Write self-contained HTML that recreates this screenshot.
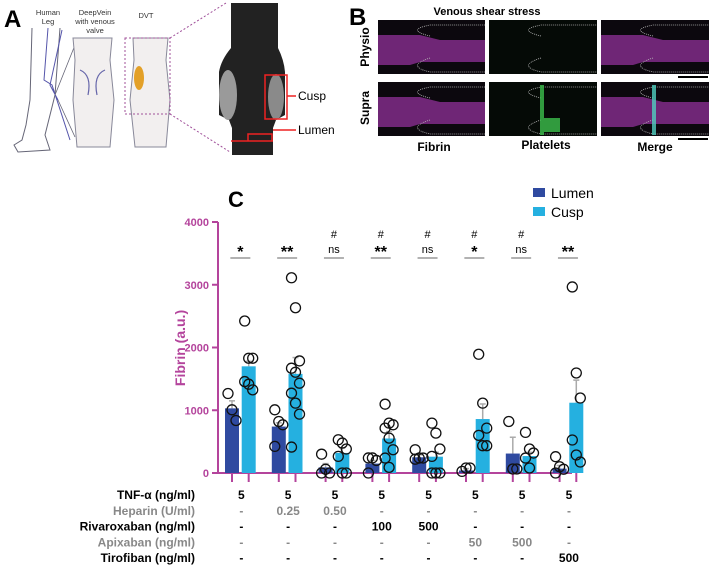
<!DOCTYPE html>
<html><head><meta charset="utf-8"><style>
body{margin:0;background:#fff;}
svg{display:block;font-family:"Liberation Sans",Arial,sans-serif;}
</style></head><body>
<svg id="fig" width="711" height="569" viewBox="0 0 711 569">
<!-- Panel A -->
<g>
<text x="4" y="27" font-size="24" font-weight="bold">A</text>
<text x="48" y="15" font-size="7.5" text-anchor="middle" fill="#333">Human</text>
<text x="48" y="24" font-size="7.5" text-anchor="middle" fill="#333">Leg</text>
<text x="95" y="15" font-size="7.5" text-anchor="middle" fill="#333">DeepVein</text>
<text x="95" y="24" font-size="7.5" text-anchor="middle" fill="#333">with venous</text>
<text x="95" y="33" font-size="7.5" text-anchor="middle" fill="#333">valve</text>
<text x="146" y="18" font-size="7.5" text-anchor="middle" fill="#333">DVT</text>
<path d="M32 28 L30 100 L26 125 L22 140 L14 145 L18 152 L50 150 L45 135 L55 95 L60 28" fill="none" stroke="#667" stroke-width="1"/>
<path d="M48 28 L44 80 L52 85 L70 140 M62 30 L50 85 L58 100" fill="none" stroke="#55a" stroke-width="1"/>
<path d="M55 95 L75 45 M58 100 L75 137" fill="none" stroke="#667" stroke-width="0.8"/>
<path d="M73 38 L112 38 L110 60 L114 100 L110 147 L77 147 L73 100 L75 60 Z" fill="#f2efef" stroke="#889"/>
<path d="M80 70 Q92 75 88 95 M105 70 Q93 75 97 95" fill="none" stroke="#66a" stroke-width="1.2"/>
<path d="M133 38 L168 38 L166 60 L170 100 L166 147 L135 147 L130 100 L134 60 Z" fill="#f2efef" stroke="#889"/>
<rect x="125" y="38" width="45" height="76" fill="none" stroke="#a0509a" stroke-dasharray="2,2"/>
<ellipse cx="139" cy="78" rx="5" ry="12" fill="#e3a028"/>
<path d="M170 38 L226 3 M170 114 L230 152" stroke="#a0509a" stroke-dasharray="2,2"/>
<path d="M231 3 L278 3 L278 48 Q284 60 285 72 L285 115 L276 120 L273 128 L273 155 L232 155 L232 128 L229 120 L219 115 L219 72 Q221 60 231 48 Z" fill="#222"/>
<ellipse cx="228" cy="95" rx="9" ry="25" fill="#9a9a9a"/>
<ellipse cx="276" cy="97" rx="8" ry="23" fill="#8a8a8a"/>
<rect x="265" y="75" width="22" height="44" fill="none" stroke="#e22" stroke-width="1.5"/>
<path d="M287 96 L296 96 M231 141 L273 141 M248 141 L248 134 L272 134 L272 141 M273 130 L296 130" stroke="#e22" stroke-width="1.5" fill="none"/>
<text x="298" y="100" font-size="12">Cusp</text>
<text x="298" y="134" font-size="12">Lumen</text>
</g>
<!-- Panel B -->
<g>
<text x="349" y="25" font-size="24" font-weight="bold">B</text>
<text x="487" y="15" font-size="11" font-weight="bold" text-anchor="middle">Venous shear stress</text>
<rect x="378" y="20" width="107" height="54" fill="#0c080e"/>
<rect x="489" y="20" width="108" height="54" fill="#050a06"/>
<rect x="601" y="20" width="108" height="54" fill="#0c080e"/>
<rect x="378" y="82" width="107" height="54" fill="#0c080e"/>
<rect x="489" y="82" width="108" height="54" fill="#050a06"/>
<rect x="601" y="82" width="108" height="54" fill="#0c080e"/>
<g fill="#7a2a82" opacity="0.9">
<path d="M378 35 L420 35 L440 40 L485 40 L485 62 L420 62 L410 65 L378 65 Z"/>
<path d="M601 35 L643 35 L663 40 L709 40 L709 62 L643 62 L633 65 L601 65 Z"/>
<path d="M378 97 L420 97 L440 102 L485 102 L485 124 L420 124 L410 127 L378 127 Z"/>
<path d="M601 97 L643 97 L663 102 L709 102 L709 124 L643 124 L633 127 L601 127 Z"/>
</g>
<g fill="none" stroke="#bbb" stroke-width="0.8" stroke-dasharray="1,1">
<path d="M430 36 Q405 30 430 25 L485 25 M430 58 Q405 66 430 72 L485 72"/>
<path d="M541 36 Q516 30 541 25 L597 25 M541 58 Q516 66 541 72 L597 72"/>
<path d="M653 36 Q628 30 653 25 L709 25 M653 58 Q628 66 653 72 L709 72"/>
<path d="M430 98 Q405 92 430 87 L485 87 M430 120 Q405 128 430 134 L485 134"/>
<path d="M541 98 Q516 92 541 87 L597 87 M541 120 Q516 128 541 134 L597 134"/>
<path d="M653 98 Q628 92 653 87 L709 87 M653 120 Q628 128 653 134 L709 134"/>
</g>
<g fill="#3cc04c" opacity="0.8">
<rect x="540" y="85" width="4" height="50"/><rect x="540" y="118" width="20" height="14"/><rect x="652" y="85" width="4" height="50" fill="#50d0c0"/>
</g>
<text x="366" y="47" font-size="12" font-weight="bold" transform="rotate(-90 366 47)" text-anchor="middle" dominant-baseline="middle">Physio</text>
<text x="366" y="108" font-size="12" font-weight="bold" transform="rotate(-90 366 108)" text-anchor="middle" dominant-baseline="middle">Supra</text>
<rect x="678" y="76" width="30" height="2" fill="#000"/>
<rect x="678" y="138" width="30" height="2" fill="#000"/>
<text x="434" y="151" font-size="12" font-weight="bold" text-anchor="middle">Fibrin</text>
<text x="546" y="149" font-size="12" font-weight="bold" text-anchor="middle">Platelets</text>
<text x="655" y="151" font-size="12" font-weight="bold" text-anchor="middle">Merge</text>
</g>
<!-- Panel C -->
<text x="228" y="207" font-size="22" font-weight="bold">C</text>
<rect x="533" y="188" width="12" height="9" fill="#2f4aa0"/>
<text x="551" y="198" font-size="14">Lumen</text>
<rect x="533" y="207" width="12" height="9" fill="#25b0e0"/>
<text x="551" y="217" font-size="14">Cusp</text>
<text x="185" y="348" font-size="14" font-weight="bold" fill="#b4449c" transform="rotate(-90 185 348)" text-anchor="middle">Fibrin (a.u.)</text>
<g id="chart"></g>
</svg>
<script>
const groups=['g1','g2','g3','g4','g5','g6','g7','g8'];
const lumenMeans=[1030,740,90,150,250,40,310,70];
const cuspMeans=[1700,1580,320,550,260,860,270,1120];
const lumenErr=[1150,800,150,200,290,70,570,120];
const cuspErr=[1780,1840,400,660,330,1100,330,1480];
const lumenPts=[[1267,1007,837],[1007,821,768,424],[300,60,0,0],[240,240,200,0],[371,238,238,220],[26,80,80],[821,64,64],[260,100,60,0]];
const cuspPts=[[2422,1829,1829,1457,1415,1325],[3111,2634,1786,1670,1606,1431,1272,1113,938,413],[530,477,382,265,0,0],[1097,795,768,715,556,371,238,90],[795,636,382,265,0,0,0],[1892,1113,715,600,435,435],[647,382,318,238,80],[2965,1594,1195,526,287,175]];
const sigHash=['','','#','#','#','#','#',''];
const sigText=['*','**','ns','**','ns','*','ns','**'];
const yTicks=[0,1000,2000,3000,4000];
const rowLabels=['TNF-α (ng/ml)','Heparin (U/ml)','Rivaroxaban (ng/ml)','Apixaban (ng/ml)','Tirofiban (ng/ml)'];
const rowBold=[true,false,true,false,true];
const rowVals=[['5','5','5','5','5','5','5','5'],['-','0.25','0.50','-','-','-','-','-'],['-','-','-','100','500','-','-','-'],['-','-','-','-','-','50','500','-'],['-','-','-','-','-','-','-','500']];

const NS='http://www.w3.org/2000/svg';
const g=document.getElementById('chart');
const y0=473,y1=222,vmax=4000;
const yS=v=>y0-(v/vmax)*(y0-y1);
const xL=i=>232+i*46.8;
const xC=i=>xL(i)+16.7;
const bw=14;
const purple='#b4449c';
function mk(tag,attrs){const e=document.createElementNS(NS,tag);for(const k in attrs)e.setAttribute(k,attrs[k]);g.appendChild(e);return e;}
let ax=mk('line',{x1:218,y1:y1,x2:218,y2:y0,stroke:purple,'stroke-width':2});


let xa=mk('line',{x1:217,y1:y0,x2:572,y2:y0,stroke:purple,'stroke-width':2});


yTicks.forEach(t=>{
 const l=mk('line',{x1:212,x2:218,y1:yS(t),y2:yS(t),stroke:purple,'stroke-width':2});
 
 
 const tx=mk('text',{x:209,y:yS(t)+4,'font-size':11,'font-weight':'bold','text-anchor':'end',fill:purple});
 tx.textContent=t;
 
 
});
groups.forEach((gr,i)=>{
 [[xL(i),lumenMeans[i],lumenErr[i],lumenPts[i],'#2f4aa0','lumen'],[xC(i),cuspMeans[i],cuspErr[i],cuspPts[i],'#25b0e0','cusp']].forEach(([cx,m,e,pts,col,nm])=>{
  const er=mk('line',{x1:cx,x2:cx,y1:yS(m),y2:yS(e),stroke:'#aaa','stroke-width':1.5});
  
  
  const ec=mk('line',{x1:cx-3,x2:cx+3,y1:yS(e),y2:yS(e),stroke:'#aaa','stroke-width':1.5});
  
  
  const b=mk('rect',{x:cx-bw/2,y:yS(m),width:bw,height:y0-yS(m),fill:col});
  
  
  const tk=mk('line',{x1:cx,x2:cx,y1:y0,y2:y0+9,stroke:purple,'stroke-width':2});
  
  
  pts.forEach((v,k)=>{
   const off=((k%3)-1)*4;
   const c=mk('circle',{cx:cx+off,cy:yS(v),r:5,fill:'none',stroke:'#111','stroke-width':1.3});
   
   
  });
 });
 const mid=(xL(i)+xC(i))/2;
 const ln=mk('line',{x1:mid-10,x2:mid+10,y1:258,y2:258,stroke:'#999','stroke-width':1.5});
 
 
 if(sigHash[i]){const h=mk('text',{x:mid,y:238,'font-size':11,'text-anchor':'middle'});h.textContent='#';
  
  }
 const ns=sigText[i]==='ns';
 const s=mk('text',{x:mid,y:ns?253:257,'font-size':ns?11:16,'font-weight':ns?'normal':'bold','text-anchor':'middle'});
 s.textContent=sigText[i];
 
 
});
rowLabels.forEach((lab,r)=>{
 const yy=499+r*15.8;
 const col=rowBold[r]?'#000':'#888';
 const t=mk('text',{x:195,y:yy,'font-size':12,'font-weight':'bold','text-anchor':'end',fill:col});
 t.textContent=lab;
 
 
 rowVals[r].forEach((v,i)=>{
  const tv=mk('text',{x:(xL(i)+xC(i))/2+1,y:yy,'font-size':12,'font-weight':'bold','text-anchor':'middle',fill:col});
  tv.textContent=v;
  
  
 });
});
</script>
</body></html>
